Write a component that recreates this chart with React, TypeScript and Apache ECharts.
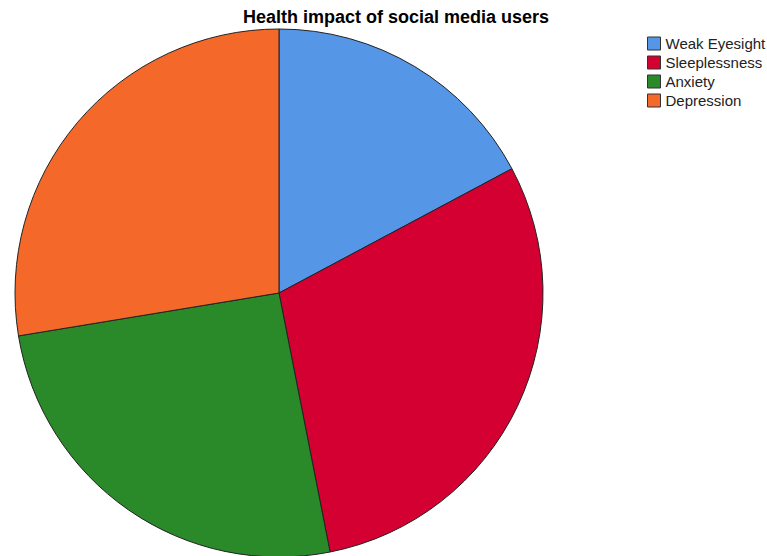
import React, { useEffect, useRef } from "react";
import * as echarts from "echarts";

const categories = ["Weak Eyesight", "Sleeplessness", "Anxiety", "Depression"];
const values = [17.2, 29.7, 25.5, 27.6];
const colors = ["#5596E6", "#D50032", "#2A8A2A", "#F4692A"];
const titleText = "Health impact of social media users";

export default function App() {
  const ref = useRef<HTMLDivElement>(null);
  useEffect(() => {
    if (!ref.current) return;
    const chart = echarts.init(ref.current, undefined, { renderer: "svg" });
    chart.setOption({
      animation: false,
      backgroundColor: "#ffffff",
      title: {
        text: titleText,
        left: 238,
        top: 3,
        textStyle: {
          fontFamily: "Liberation Sans, Arial, sans-serif",
          fontSize: 18,
          fontWeight: "bold",
          color: "#000",
        },
      },
      legend: {
        orient: "vertical",
        left: 642,
        top: 31,
        itemWidth: 13,
        itemHeight: 13,
        itemGap: 4,
        icon: "rect",
        data: categories,
        itemStyle: { borderColor: "#333", borderWidth: 1 },
        textStyle: {
          fontFamily: "Liberation Sans, Arial, sans-serif",
          fontSize: 15,
          color: "#222",
        },
      },
      series: [
        {
          type: "pie",
          center: [279, 293],
          radius: 264,
          startAngle: 90,
          clockwise: true,
          label: { show: false },
          labelLine: { show: false },
          emphasis: { disabled: true },
          itemStyle: { borderColor: "#222", borderWidth: 1 },
          data: categories.map((c, i) => ({
            name: c,
            value: values[i],
            itemStyle: { color: colors[i] },
          })),
        },
      ],
    });
    return () => chart.dispose();
  }, []);
  return (
    <div
      ref={ref}
      style={{ position: "fixed", left: 0, top: 0, width: 767, height: 556 }}
    />
  );
}
